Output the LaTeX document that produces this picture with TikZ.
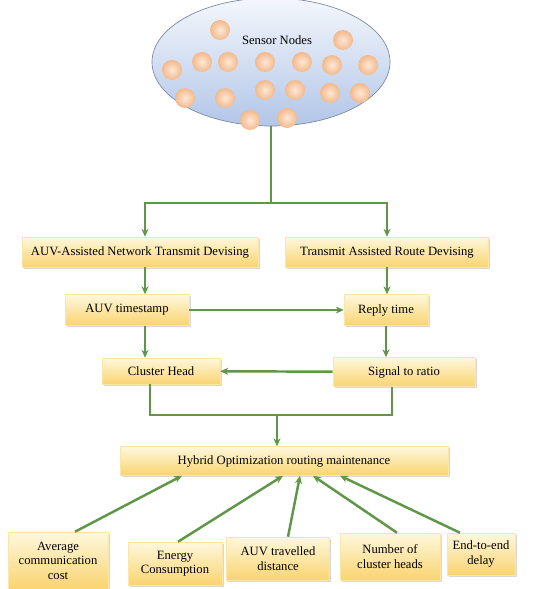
\documentclass[tikz,border=0pt]{standalone}
\usepackage{fontspec}
\setmainfont{Liberation Serif}
\usepackage{xcolor}
\usetikzlibrary{positioning,shapes.geometric,shadows,arrows.meta}

\definecolor{linegreen}{RGB}{96,150,72}
\definecolor{boxlight}{RGB}{255,248,222}
\definecolor{boxdark}{RGB}{249,212,112}
\definecolor{skytop}{RGB}{244,247,252}
\definecolor{skybot}{RGB}{178,198,232}
\definecolor{peachin}{RGB}{253,232,214}
\definecolor{peachout}{RGB}{243,185,140}

\begin{document}
\begin{tikzpicture}[
    stage/.style={shape=rectangle, draw=boxdark!60, line width=0.3pt, top color=boxlight, bottom color=boxdark,
                  drop shadow={shadow xshift=1pt, shadow yshift=-1pt, fill=black!30},
                  font=\fontsize{7.2}{8.3}\selectfont, inner sep=1pt, align=center},
    link/.style={draw=linegreen, line width=1.4pt},
    arr/.style={link, -{Stealth[length=4.5pt,width=4pt]}},
    sensor/.style={shape=circle, minimum size=0.4cm, inner sep=0pt, inner color=peachin, outer color=peachout}
  ]
  \useasboundingbox (0,0) rectangle (10.82,-11.78);

  % sensor field
  \node[shape=ellipse, draw=skybot!70!black, line width=0.4pt, top color=skytop, bottom color=skybot,
        minimum width=4.76cm, minimum height=2.56cm] (sensors) at (5.42,-1.24) {};
  \foreach \sx/\sy in {4.4/-0.6, 6.86/-0.8, 3.44/-1.4, 4.04/-1.24, 4.56/-1.24, 5.3/-1.24,
                       6.04/-1.24, 6.64/-1.3, 7.36/-1.3, 3.7/-1.96, 4.5/-1.96, 5.3/-1.8,
                       5.9/-1.8, 6.6/-1.86, 7.2/-1.86, 5.0/-2.4, 5.74/-2.36}
    \node[sensor] at (\sx,\sy) {};
  \node[font=\fontsize{7.2}{8.3}\selectfont] (title) at (5.54,-0.8) {Sensor Nodes};

  % processing stages
  \node[stage, minimum width=4.72cm, minimum height=0.6cm] (netdev) at (2.8,-5.04) {AUV-Assisted Network Transmit Devising};
  \node[stage, minimum width=4.06cm, minimum height=0.6cm] (routedev) at (7.74,-5.04) {Transmit Assisted Route Devising};
  \node[stage, minimum width=2.48cm, minimum height=0.62cm] (stamp) at (2.54,-6.2) {AUV timestamp};
  \node[stage, minimum width=1.68cm, minimum height=0.62cm] (reply) at (7.72,-6.2) {Reply time};
  \node[stage, minimum width=2.36cm, minimum height=0.52cm] (head) at (3.22,-7.42) {Cluster Head};
  \node[stage, minimum width=2.84cm, minimum height=0.58cm] (snr) at (8.08,-7.44) {Signal to ratio};
  \node[stage, minimum width=6.56cm, minimum height=0.58cm] (hybrid) at (5.68,-9.22) {Hybrid Optimization routing maintenance};

  % metrics
  \node[stage, minimum width=2.0cm, minimum height=1.14cm] (avgcost) at (1.16,-11.21) {Average\\communication\\cost};
  \node[stage, minimum width=1.88cm, minimum height=0.86cm] (energy) at (3.5,-11.27) {Energy\\Consumption};
  \node[stage, minimum width=2.06cm, minimum height=0.86cm] (travel) at (5.56,-11.17) {AUV travelled\\distance};
  \node[stage, minimum width=2.0cm, minimum height=0.94cm] (heads) at (7.8,-11.13) {Number of\\cluster heads};
  \node[stage, minimum width=1.36cm, minimum height=0.84cm] (delay) at (9.62,-11.08) {End-to-end\\delay};

  \coordinate (split) at (5.42,-4.06);
  \coordinate (headdn) at (3.0,-8.3);
  \coordinate (snrdn) at (7.84,-8.3);
  \coordinate (merge) at (5.54,-8.3);

  \draw[link] (sensors.south) -- (split);
  \draw[arr] (split) -| ([xshift=1mm]netdev.north);
  \draw[arr] (split) -| (routedev.north);
  \draw[arr] ([xshift=1mm]netdev.south) -- ([xshift=1mm]netdev.south |- stamp.north);
  \draw[arr] (routedev.south) -- (routedev.south |- reply.north);
  \draw[arr] (stamp) -- (reply);
  \draw[arr] ([xshift=1mm]netdev.south |- stamp.south) -- ([xshift=1mm]netdev.south |- head.north);
  \draw[arr] (reply.south) -- (reply.south |- snr.north);
  \draw[arr] (snr) -- (head);
  \draw[link] (head.south -| headdn) -- (headdn) -- (snrdn) -- (snr.south -| snrdn);
  \draw[arr] (merge) -- (merge |- hybrid.north);

  \draw[arr] ([xshift=3.4mm]avgcost.north) -- ([xshift=-20.4mm]hybrid.south);
  \draw[arr] ([xshift=0.6mm]energy.north) -- ([xshift=-0.2mm]hybrid.south);
  \draw[arr] ([xshift=2mm]travel.north) -- ([xshift=3.2mm]hybrid.south);
  \draw[arr] ([xshift=1.4mm]heads.north) -- ([xshift=5.8mm]hybrid.south);
  \draw[arr] ([xshift=-4.2mm]delay.north) -- ([xshift=11.2mm]hybrid.south);
\end{tikzpicture}
\end{document}
